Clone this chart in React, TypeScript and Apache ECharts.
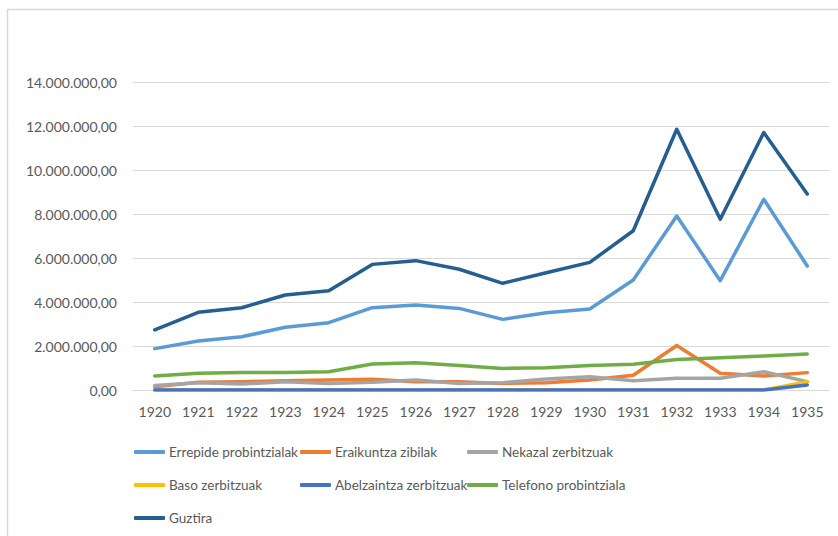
import React, { useEffect, useRef } from "react";
import * as echarts from "echarts";

const years = ["1920","1921","1922","1923","1924","1925","1926","1927","1928","1929","1930","1931","1932","1933","1934","1935"];
const errepide = [1880000,2230000,2420000,2850000,3060000,3740000,3860000,3710000,3210000,3510000,3680000,5000000,7910000,4970000,8670000,5640000];
const eraikuntza = [150000,350000,380000,420000,450000,490000,380000,380000,300000,330000,450000,670000,2020000,760000,640000,790000];
const nekazal = [200000,330000,270000,380000,300000,350000,450000,300000,330000,500000,600000,420000,530000,530000,830000,380000];
const baso = [0,0,0,0,0,0,0,0,0,0,0,0,0,0,0,380000];
const abelzaintza = [0,0,0,0,0,0,0,0,0,0,0,0,0,0,0,230000];
const telefono = [640000,760000,800000,790000,830000,1180000,1240000,1110000,980000,1010000,1110000,1170000,1390000,1470000,1550000,1640000];
const guztira = [2730000,3530000,3740000,4320000,4510000,5710000,5880000,5490000,4850000,5330000,5800000,7240000,11850000,7760000,11700000,8910000];

const seriesNames = ["Errepide probintzialak","Eraikuntza zibilak","Nekazal zerbitzuak","Baso zerbitzuak","Abelzaintza zerbitzuak","Telefono probintziala","Guztira"];
const seriesData = [errepide, eraikuntza, nekazal, baso, abelzaintza, telefono, guztira];
const colors = ["#5B9BD5","#ED7D31","#A5A5A5","#FFC000","#4472C4","#70AD47","#255E91"];
const legendPos = [[134,452],[300,452],[467,452],[134,485],[300,485],[467,485],[134,518]];

const FONT = "Lato";
const TXT = "#595959";

function fmt(v: number): string {
  const s = Math.round(v).toString().replace(/\B(?=(\d{3})+(?!\d))/g, ".");
  return s + ",00";
}

export default function App() {
  const ref = useRef<HTMLDivElement>(null);
  useEffect(() => {
    document.body.style.margin = "0";
    const chart = echarts.init(ref.current!, null, { renderer: "svg" });
    chart.setOption({
      animation: false,
      backgroundColor: "#ffffff",
      textStyle: { fontFamily: FONT },
      grid: { left: 133, right: 9, top: 82, bottom: 146 },
      xAxis: {
        type: "category",
        data: years,
        boundaryGap: true,
        axisLine: { lineStyle: { color: "#d9d9d9", width: 1 } },
        axisTick: { show: false },
        axisLabel: { color: TXT, fontSize: 14, fontFamily: FONT, margin: 14 },
      },
      yAxis: {
        type: "value",
        min: 0,
        max: 14000000,
        interval: 2000000,
        axisLine: { show: false },
        axisTick: { show: false },
        splitLine: { lineStyle: { color: "#d9d9d9", width: 1 } },
        axisLabel: { color: TXT, fontSize: 14, fontFamily: FONT, margin: 16, formatter: (v: number) => fmt(v) },
      },
      legend: seriesNames.map((n, i) => ({
        data: [n],
        left: legendPos[i][0],
        top: legendPos[i][1] - 8,
        icon: "roundRect",
        itemWidth: 31,
        itemHeight: 4,
        padding: 0,
        textStyle: { color: TXT, fontSize: 13.5, fontFamily: FONT, lineHeight: 16, padding: [0, 0, 0, -1] },
      })),
      series: seriesNames.map((n, i) => ({
        name: n,
        type: "line",
        data: seriesData[i],
        symbol: "none",
        color: colors[i],
        lineStyle: { width: 3.5, color: colors[i], cap: "round", join: "round" },
        z: 2 + i,
      })),
      graphic: [
        {
          type: "rect",
          shape: { x: 7.5, y: 9.5, width: 900, height: 600 },
          style: { fill: "none", stroke: "#d9d9d9", lineWidth: 1.5 },
          silent: true,
        },
      ],
    });
    return () => chart.dispose();
  }, []);
  return <div ref={ref} style={{ width: 838, height: 536 }} />;
}
